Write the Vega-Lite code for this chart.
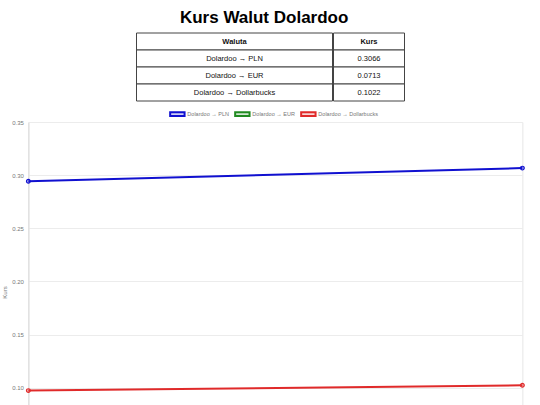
{
  "$schema": "https://vega.github.io/schema/vega-lite/v6.json",
  "padding": {"left": 1, "top": 8, "right": 18, "bottom": 0},
  "title": {
    "text": "Kurs Walut Dolardoo",
    "fontSize": 17,
    "fontWeight": "bold",
    "font": "Liberation Sans",
    "color": "#000",
    "anchor": "middle",
    "offset": 6
  },
  "datasets": {
    "tabela": [
      {"i": 0, "waluta": "Waluta", "kurs": "Kurs"},
      {"i": 1, "waluta": "Dolardoo → PLN", "kurs": "0.3066"},
      {"i": 2, "waluta": "Dolardoo → EUR", "kurs": "0.0713"},
      {"i": 3, "waluta": "Dolardoo → Dollarbucks", "kurs": "0.1022"}
    ],
    "kursy": [
      {"data": "2024-06-01", "para": "Dolardoo → PLN", "kurs": 0.2943},
      {"data": "2024-06-02", "para": "Dolardoo → PLN", "kurs": 0.3066},
      {"data": "2024-06-01", "para": "Dolardoo → EUR", "kurs": 0.0685},
      {"data": "2024-06-02", "para": "Dolardoo → EUR", "kurs": 0.0713},
      {"data": "2024-06-01", "para": "Dolardoo → Dollarbucks", "kurs": 0.0972},
      {"data": "2024-06-02", "para": "Dolardoo → Dollarbucks", "kurs": 0.1022}
    ]
  },
  "vconcat": [
    {
      "hconcat": [
        {
          "width": 196,
          "height": 68,
          "data": {"name": "tabela"},
          "encoding": {
            "y": {"field": "i", "type": "ordinal", "axis": null, "scale": {"paddingInner": 0, "paddingOuter": 0}}
          },
          "layer": [
            {"mark": {"type": "rect", "fill": "white", "stroke": "#444", "strokeWidth": 1}},
            {
              "transform": [{"filter": "datum.i > 0"}],
              "mark": {"type": "text", "fontSize": 7.5, "font": "Liberation Sans", "color": "#111"},
              "encoding": {"text": {"field": "waluta"}}
            },
            {
              "transform": [{"filter": "datum.i === 0"}],
              "mark": {"type": "text", "fontSize": 7.5, "font": "Liberation Sans", "fontWeight": "bold", "color": "#111"},
              "encoding": {"text": {"field": "waluta"}}
            }
          ]
        },
        {
          "width": 71,
          "height": 68,
          "data": {"name": "tabela"},
          "encoding": {
            "y": {
              "field": "i",
              "type": "ordinal",
              "scale": {"paddingInner": 0, "paddingOuter": 0},
              "axis": {"orient": "right", "labels": false, "ticks": false, "domain": false, "title": null, "minExtent": 14, "maxExtent": 14}
            }
          },
          "layer": [
            {"mark": {"type": "rect", "fill": "white", "stroke": "#444", "strokeWidth": 1}},
            {
              "transform": [{"filter": "datum.i > 0"}],
              "mark": {"type": "text", "fontSize": 7.5, "font": "Liberation Sans", "color": "#111"},
              "encoding": {"text": {"field": "kurs"}}
            },
            {
              "transform": [{"filter": "datum.i === 0"}],
              "mark": {"type": "text", "fontSize": 7.5, "font": "Liberation Sans", "fontWeight": "bold", "color": "#111"},
              "encoding": {"text": {"field": "kurs"}}
            }
          ]
        }
      ],
      "spacing": -1
    },
    {
      "width": 494,
      "height": 340,
      "data": {"name": "kursy"},
      "encoding": {
        "x": {
          "field": "data",
          "type": "ordinal",
          "title": null,
          "scale": {"type": "point", "padding": 0},
          "axis": {"grid": true, "gridColor": "#e6e6e6", "labels": false, "ticks": false, "domain": false}
        },
        "y": {
          "field": "kurs",
          "type": "quantitative",
          "title": "Kurs",
          "scale": {"domain": [0.03, 0.35], "nice": false},
          "axis": {
            "values": [0.05, 0.1, 0.15, 0.2, 0.25, 0.3, 0.35],
            "format": ".2f",
            "gridColor": "#ececec",
            "domainColor": "#dcdcdc",
            "ticks": false,
            "labelFontSize": 6,
            "labelColor": "#777",
            "labelPadding": 5,
            "titleFontSize": 6,
            "titleFontWeight": "normal",
            "titleColor": "#777",
            "titlePadding": 4
          }
        },
        "color": {
          "field": "para",
          "type": "nominal",
          "sort": ["Dolardoo → PLN", "Dolardoo → EUR", "Dolardoo → Dollarbucks"],
          "scale": {"domain": ["Dolardoo → PLN", "Dolardoo → EUR", "Dolardoo → Dollarbucks"], "range": ["#1010d0", "#208a20", "#e02a2a"]},
          "legend": {
            "orient": "top",
            "direction": "horizontal",
            "title": null,
            "symbolType": "M-1.8,-0.45H1.8V0.45H-1.8Z",
            "symbolSize": 64,
            "symbolStrokeWidth": 2,
            "labelFontSize": 5.5,
            "labelColor": "#777",
            "labelOffset": 5,
            "columnPadding": 1,
            "offset": 2,
            "padding": 0,
            "encode": {"symbols": {"update": {"fill": {"scale": "color", "field": "value"}, "fillOpacity": {"value": 0.2}}}}
          }
        }
      },
      "layer": [
        {"mark": {"type": "line", "strokeWidth": 2}},
        {"mark": {"type": "point", "filled": true, "size": 14, "fillOpacity": 0.3, "strokeWidth": 1.2, "opacity": 1}, "encoding": {"stroke": {"field": "para", "type": "nominal", "scale": {"domain": ["Dolardoo → PLN", "Dolardoo → EUR", "Dolardoo → Dollarbucks"], "range": ["#1010d0", "#208a20", "#e02a2a"]}, "legend": null}}}
      ]
    }
  ],
  "resolve": {"legend": {"color": "independent", "stroke": "independent"}},
  "spacing": 7,
  "center": true,
  "config": {
    "view": {"stroke": null},
    "font": "Liberation Sans",
    "legend": {"layout": {"top": {"anchor": "middle"}}}
  }
}
